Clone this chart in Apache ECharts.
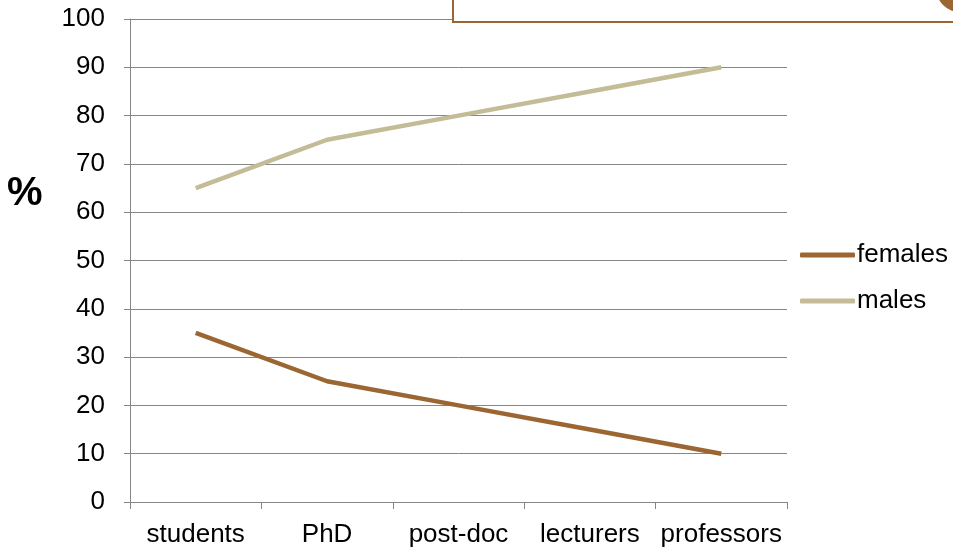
<!DOCTYPE html>
<html>
<head>
<meta charset="utf-8">
<script src="https://cdn.jsdelivr.net/npm/echarts@6/dist/echarts.min.js"></script>
<style>html,body{margin:0;padding:0;background:#fff;}#c{width:953px;height:548px;}</style>
</head>
<body>
<div id="c"></div>
<script>
const categories = ['students', 'PhD', 'post-doc', 'lecturers', 'professors'];
const females = [35, 25, 20, 15, 10];
const males = [65, 75, 80, 85, 90];
const yTicks = { min: 0, max: 100, interval: 10 };

const chart = echarts.init(document.getElementById('c'));
const font = '"Liberation Sans", Arial, sans-serif';
chart.setOption({
  animation: false,
  grid: { left: 130, right: 166, top: 19, bottom: 46 },
  xAxis: {
    type: 'category', data: categories, boundaryGap: true,
    axisLine: { lineStyle: { color: '#868686', width: 1 } },
    axisTick: { show: true, length: 7, lineStyle: { color: '#868686' } },
    axisLabel: { color: '#000', fontSize: 26, fontFamily: font, margin: 20, interval: 0 }
  },
  yAxis: {
    type: 'value', min: yTicks.min, max: yTicks.max, interval: yTicks.interval,
    axisLine: { show: true, lineStyle: { color: '#868686', width: 1 } },
    axisTick: { show: true, length: 6, lineStyle: { color: '#868686' } },
    splitLine: { lineStyle: { color: '#868686', width: 1 } },
    axisLabel: { color: '#000', fontSize: 26, fontFamily: font, margin: 25 }
  },
  legend: {
    orient: 'vertical', left: 795, top: 237, itemGap: 20,
    itemWidth: 55, itemHeight: 5, icon: 'roundRect', itemStyle: { borderWidth: 0 },
    textStyle: { color: '#000', fontSize: 26, lineHeight: 26, fontFamily: font, padding: [0, 0, 0, -3] },
    data: ['females', 'males']
  },
  graphic: [
    { type: 'text', z: 100, x: 7, y: 194, style: { text: '%', font: 'bold 40px ' + font, fill: '#000', verticalAlign: 'middle', align: 'left' } },
    { type: 'rect', z: 100, shape: { x: 453, y: -10, width: 520, height: 32 }, style: { fill: '#fff', stroke: '#9C6633', lineWidth: 2 } },
    { type: 'circle', z: 101, shape: { cx: 960, cy: -12, r: 24 }, style: { fill: '#9C6633' } }
  ],
  series: [
    { name: 'females', type: 'line', data: females, symbol: 'none', color: '#9C6633', lineStyle: { width: 4.5, color: '#9C6633' } },
    { name: 'males', type: 'line', data: males, symbol: 'none', color: '#C4BC96', lineStyle: { width: 4.5, color: '#C4BC96' } }
  ]
});
</script>
</body>
</html>
